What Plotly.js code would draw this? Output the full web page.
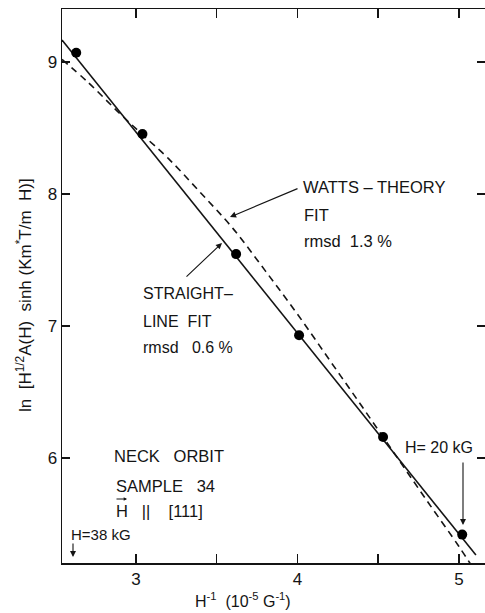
<!DOCTYPE html>
<html>
<head>
<meta charset="utf-8">
<script src="https://cdn.plot.ly/plotly-3.0.1.min.js"></script>
<style>
  html, body { margin: 0; padding: 0; background: #fff; }
  #chart { width: 485px; height: 613px; }
</style>
</head>
<body>
<div id="chart"></div>
<script>
// Measured data points: H^-1 (10^-5 G^-1) vs ln[...]
const measX = [2.63, 3.04, 3.62, 4.01, 4.53, 5.02];
const measY = [9.07, 8.455, 7.545, 6.93, 6.16, 5.42];

// Straight-line fit (end points)
const lineFitX = [2.542, 5.105];
const lineFitY = [9.167, 5.265];

// Watts-theory fit (dashed curve)
const wattsX = [2.542, 2.7, 2.9, 3.04, 3.2, 3.4, 3.6, 3.8, 4.0, 4.2, 4.4, 4.6, 4.8, 5.0, 5.07];
const wattsY = [9.02, 8.85, 8.61, 8.45, 8.27, 8.01, 7.74, 7.42, 7.09, 6.74, 6.39, 6.035, 5.68, 5.33, 5.20];

// Tick labels
const xTickVals = [3, 4, 5];
const xTickText = ['3', '4', '5'];
const xMinorVals = [3.5, 4.5];
const yTickVals = [6, 7, 8, 9];
const yTickText = ['6', '7', '8', '9'];

// ---- layout geometry (pixel helpers) ----
const L = 62, T = 9, B = 50, R = 0, W = 485, H = 613;
const xr = [2.542, 2.542 + (W - L - R) / 161.5];
const yr = [5.205, 5.205 + (H - T - B) / 132];
function px2x(px) { return xr[0] + (px - L) / 161.5; }
function py2y(py) { return yr[1] - (py - T) / 132; }

const ink = '#141414';
const FONT = 'Liberation Sans, Arial, sans-serif';

function label(text, px, py, size) {
  return {
    x: px2x(px), y: py2y(py), xref: 'x', yref: 'y',
    text: text, showarrow: false, xanchor: 'left', yanchor: 'middle',
    font: { family: FONT, size: size || 16, color: ink }
  };
}
function arrow(hx, hy, tx, ty, size) {
  return {
    x: px2x(hx), y: py2y(hy), xref: 'x', yref: 'y',
    ax: tx - hx, ay: ty - hy, text: '', showarrow: true,
    arrowhead: 2, arrowsize: size || 1.1, arrowwidth: 1.1, arrowcolor: ink
  };
}

const traces = [
  {
    x: lineFitX, y: lineFitY, mode: 'lines', type: 'scatter',
    line: { color: ink, width: 1.6 }, hoverinfo: 'skip'
  },
  {
    x: wattsX, y: wattsY, mode: 'lines', type: 'scatter',
    line: { color: ink, width: 1.6, dash: '7px,5px', shape: 'spline', smoothing: 1 },
    hoverinfo: 'skip'
  },
  {
    x: measX, y: measY, mode: 'markers', type: 'scatter',
    marker: { color: '#000', size: 10 }, cliponaxis: false
  }
];

const annotations = [
  label('WATTS – THEORY', 301, 187, 16.5),
  label('FIT', 302, 215, 16.5),
  label('rmsd  1.3 %', 302, 241, 16.5),
  label('STRAIGHT–', 141, 293),
  label('LINE  FIT', 141, 321),
  label('rmsd   0.6 %', 141, 347),
  label('NECK   ORBIT', 112, 456, 16.5),
  label('SAMPLE   34', 114, 486, 16.5),
  label('H   ||    [111]', 114, 511, 16.5),
  label('H=38 kG', 69, 534, 15),
  label('H= 20 kG', 403, 447),
  arrow(230, 217, 299, 188),
  arrow(222, 243, 185, 278),
  arrow(463, 525, 463, 461),
  arrow(73, 557, 73, 542),
  arrow(127, 499, 115, 499, 0.6),
  {
    xref: 'paper', yref: 'paper', x: (24 - L) / (W - L - R), y: (H - B - 295) / (H - T - B),
    text: 'ln  [H<sup>1/2</sup>A(H)  sinh (Km<sup>*</sup>T/m  H)]', textangle: -90,
    showarrow: false, xanchor: 'center', yanchor: 'middle',
    font: { family: FONT, size: 17, color: ink }
  },
  {
    xref: 'paper', yref: 'paper', x: (243 - L) / (W - L - R), y: (H - B - 600) / (H - T - B),
    text: 'H<sup>-1</sup>  (10<sup>-5</sup> G<sup>-1</sup>)',
    showarrow: false, xanchor: 'center', yanchor: 'middle',
    font: { family: FONT, size: 16, color: ink }
  }
];

const layout = {
  width: W, height: H,
  margin: { l: L, r: R, t: T, b: B, pad: 0 },
  paper_bgcolor: '#fff', plot_bgcolor: '#fff',
  showlegend: false,
  xaxis: {
    range: xr, showgrid: false, zeroline: false,
    showline: true, linecolor: ink, linewidth: 1.5, mirror: 'ticks',
    ticks: 'inside', ticklen: 9, tickwidth: 1.5, tickcolor: ink,
    tickvals: xTickVals, ticktext: xTickText,
    minor: { tickvals: xMinorVals, ticks: 'inside', ticklen: 9, tickwidth: 1.5, tickcolor: ink, showgrid: false },
    tickfont: { family: FONT, size: 17, color: ink }
  },
  yaxis: {
    range: yr, showgrid: false, zeroline: false,
    showline: true, linecolor: ink, linewidth: 1.5, mirror: 'ticks',
    ticks: 'inside', ticklen: 8, tickwidth: 1.5, tickcolor: ink,
    tickvals: yTickVals, ticktext: yTickText,
    tickfont: { family: FONT, size: 17, color: ink }
  },
  annotations: annotations
};

Plotly.newPlot('chart', traces, layout, { staticPlot: true, displayModeBar: false });
</script>
</body>
</html>
